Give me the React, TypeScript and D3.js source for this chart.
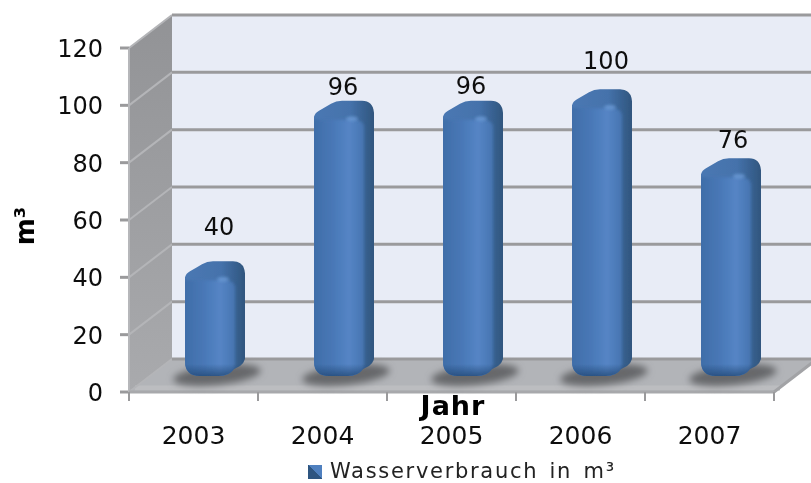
import React from "react";
import * as d3 from "d3";

const years = ["2003", "2004", "2005", "2006", "2007"];
const waterUse = [40, 96, 96, 100, 76];
const barLabels = ["40", "96", "96", "100", "76"];
const yTicks = [0, 20, 40, 60, 80, 100, 120];

const WIDTH = 811;
const HEIGHT = 483;
// 3d box: front plane and the shift to the back wall
const frontLeft = 129;
const frontRight = 774;
const frontBottom = 392;
const frontTop = 48;
const depthX = 43;
const depthY = -33;
const barBase = 376;
const barWidth = 60;
const barInset = 56;

// labels in the original do not sit at a constant distance from the bars
const labelLift = [26, 6, 7, 20, 10];
const labelShift = [4, -1, -2, 4, 2];

const x = d3.scaleBand<string>().domain(years).range([frontLeft, frontRight]);
const y = d3.scaleLinear().domain([0, 120]).range([frontBottom, frontTop]);
const barHeight = (v: number) => frontBottom - y(v);

function outline(left: number, top: number) {
  const p = d3.path();
  const right = left + barWidth;
  p.moveTo(left, top + 16);
  p.quadraticCurveTo(left + 1, top + 12, left + 5, top + 10);
  p.lineTo(left + 17, top + 3);
  p.quadraticCurveTo(left + 22, top, left + 28, top);
  p.lineTo(right - 12, top);
  p.quadraticCurveTo(right - 1, top, right, top + 12);
  p.lineTo(right, barBase - 17);
  p.quadraticCurveTo(right - 1, barBase - 13, right - 5, barBase - 10);
  p.lineTo(right - 11, barBase - 7);
  p.quadraticCurveTo(right - 16, barBase, right - 26, barBase);
  p.lineTo(left + 15, barBase);
  p.quadraticCurveTo(left, barBase, left, barBase - 15);
  p.closePath();
  return p.toString();
}

function frontFace(left: number, top: number) {
  const p = d3.path();
  const right = left + barWidth - 10;
  p.moveTo(left - 3, top + 18);
  p.lineTo(left + 8, top + 19);
  p.lineTo(right - 10, top + 19);
  p.quadraticCurveTo(right - 1, top + 19, right, top + 26);
  p.lineTo(right, barBase - 12);
  p.quadraticCurveTo(right - 2, barBase + 3, right - 14, barBase + 3);
  p.lineTo(left - 3, barBase + 3);
  p.closePath();
  return p.toString();
}

export default function App() {
  const poly = (pts: number[][]) => pts.map((d) => d.join(",")).join(" ");
  const backLeft = frontLeft + depthX;
  const backBottom = frontBottom + depthY;
  const backTop = frontTop + depthY;
  const backRight = frontRight + depthX;
  const tickEdges = [...years.map((d) => x(d) as number), frontRight];

  return (
    <svg
      width={WIDTH}
      height={HEIGHT}
      style={{ position: "absolute", left: 0, top: 0, background: "#fff" }}
      fontFamily="'DejaVu Sans', sans-serif"
    >
      <defs>
        <linearGradient id="front" x1="0" x2="1" y1="0" y2="0">
          <stop offset="0" stopColor="#3e6ca6" />
          <stop offset="0.4" stopColor="#4877b6" />
          <stop offset="0.72" stopColor="#5585c5" />
          <stop offset="1" stopColor="#4674b0" />
        </linearGradient>
        <linearGradient id="shell" x1="0" x2="1" y1="0" y2="0">
          <stop offset="0" stopColor="#4a78b3" />
          <stop offset="0.6" stopColor="#4572ab" />
          <stop offset="0.85" stopColor="#37608f" />
          <stop offset="1" stopColor="#31567e" />
        </linearGradient>
        <linearGradient id="bottomShade" x1="0" x2="0" y1="0" y2="1">
          <stop offset="0" stopColor="#234a78" stopOpacity="0" />
          <stop offset="1" stopColor="#234a78" stopOpacity="0.8" />
        </linearGradient>
        <linearGradient id="sideWall" x1="0" x2="0" y1="0" y2="1">
          <stop offset="0" stopColor="#929396" />
          <stop offset="1" stopColor="#a9aaad" />
        </linearGradient>
        <linearGradient id="legendBox" x1="0" x2="1" y1="1" y2="0">
          <stop offset="0.5" stopColor="#2f5580" />
          <stop offset="0.5" stopColor="#5080bf" />
        </linearGradient>
        <filter id="soft" x="-30%" y="-100%" width="160%" height="300%">
          <feGaussianBlur stdDeviation="3.5" />
        </filter>
        <filter id="bevel" x="-20%" y="-20%" width="140%" height="140%">
          <feGaussianBlur stdDeviation="1.6" />
        </filter>
        <filter id="glow" x="-100%" y="-100%" width="300%" height="300%">
          <feGaussianBlur stdDeviation="1.5" />
        </filter>
        <filter id="scan">
          <feGaussianBlur stdDeviation="0.55" />
        </filter>
        {years.map((year, i) => (
          <clipPath key={year} id={`bar-${year}`}>
            <path
              d={outline(
                (x(year) as number) + barInset,
                barBase - barHeight(waterUse[i])
              )}
            />
          </clipPath>
        ))}
      </defs>

      <g filter="url(#scan)">
        {/* walls */}
        <rect
          x={backLeft}
          y={backTop}
          width={WIDTH - backLeft}
          height={backBottom - backTop}
          fill="#e8ecf6"
        />
        <polygon
          points={poly([
            [frontLeft, frontTop],
            [backLeft, backTop],
            [backLeft, backBottom],
            [frontLeft, frontBottom],
          ])}
          fill="url(#sideWall)"
        />
        <polygon
          points={poly([
            [frontLeft, frontBottom],
            [backLeft, backBottom],
            [backRight, backBottom],
            [frontRight, frontBottom],
          ])}
          fill="#b2b4b8"
        />
        <line
          x1={frontLeft + 6}
          x2={frontRight + 6}
          y1={frontBottom - 4}
          y2={frontBottom - 4}
          stroke="#bcbdc0"
          strokeWidth={5}
        />

        {/* grid */}
        {yTicks.map((t) => (
          <g key={t} fill="none">
            <line
              x1={frontLeft}
              x2={backLeft}
              y1={y(t)}
              y2={y(t) + depthY}
              stroke="#b4b5b8"
              strokeWidth={2}
            />
            <line
              x1={backLeft}
              x2={WIDTH}
              y1={y(t) + depthY}
              y2={y(t) + depthY}
              stroke="#9a9a9c"
              strokeWidth={3}
            />
            <line x1={120} x2={frontLeft} y1={y(t)} y2={y(t)} stroke="#9a9a9c" strokeWidth={3} />
          </g>
        ))}
        <line
          x1={frontRight}
          x2={backRight}
          y1={frontBottom}
          y2={backBottom}
          stroke="#a2a3a6"
          strokeWidth={3}
        />
        <line x1={frontLeft} x2={frontLeft} y1={frontTop} y2={frontBottom} stroke="#b6b7ba" strokeWidth={2} />
        <line x1={frontLeft} x2={frontRight} y1={frontBottom} y2={frontBottom} stroke="#a8a9ac" strokeWidth={3} />
        {tickEdges.map((e) => (
          <line key={e} x1={e} x2={e} y1={frontBottom} y2={frontBottom + 9} stroke="#9a9a9c" strokeWidth={2} />
        ))}

        {/* bars */}
        {years.map((year, i) => {
          const left = (x(year) as number) + barInset;
          const top = barBase - barHeight(waterUse[i]);
          return (
            <g key={year}>
              <ellipse
                cx={left + 32}
                cy={barBase - 1}
                rx={44}
                ry={10}
                fill="#66676b"
                filter="url(#soft)"
                transform={`rotate(-6 ${left + 32} ${barBase - 1})`}
              />
              <path d={outline(left, top)} fill="url(#shell)" />
              <g clipPath={`url(#bar-${year})`}>
                <path d={frontFace(left, top)} fill="url(#front)" filter="url(#bevel)" />
                <rect
                  x={left}
                  y={barBase - 12}
                  width={barWidth}
                  height={12}
                  fill="url(#bottomShade)"
                />
                <ellipse
                  cx={left + 38}
                  cy={top + 18}
                  rx={6}
                  ry={2.5}
                  fill="#78a8e4"
                  opacity={0.6}
                  filter="url(#glow)"
                />
              </g>
              <text
                x={left + barWidth / 2 + labelShift[i]}
                y={top - labelLift[i]}
                textAnchor="middle"
                fontSize={24}
                fill="#111"
              >
                {barLabels[i]}
              </text>
            </g>
          );
        })}

        {/* axis text */}
        {yTicks.map((t) => (
          <text key={t} x={103} y={y(t) + 9} textAnchor="end" fontSize={24} fill="#111">
            {t}
          </text>
        ))}
        {years.map((year) => (
          <text
            key={year}
            x={(x(year) as number) + x.bandwidth() / 2}
            y={444}
            textAnchor="middle"
            fontSize={25}
            fill="#111"
          >
            {year}
          </text>
        ))}
        <text x={453} y={415} textAnchor="middle" fontSize={27} fontWeight="bold" letterSpacing={1} fill="#000">
          Jahr
        </text>
        <text
          transform="translate(34,226) rotate(-90)"
          textAnchor="middle"
          fontSize={26}
          fontWeight="bold"
          fill="#000"
        >
          m³
        </text>

        {/* legend */}
        <rect x={308} y={465} width={14} height={14} fill="url(#legendBox)" />
        <text x={330} y={478} fontSize={21} letterSpacing={1.7} wordSpacing={3} fill="#222">
          Wasserverbrauch in m³
        </text>
      </g>
    </svg>
  );
}
